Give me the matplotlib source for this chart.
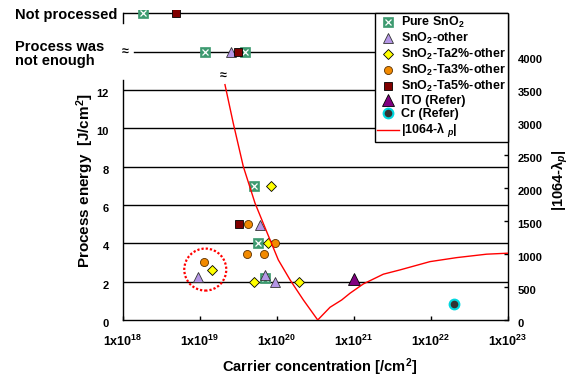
import matplotlib
matplotlib.use("Agg")
import matplotlib.pyplot as plt
from matplotlib.legend_handler import HandlerTuple
from matplotlib.patches import Circle
from matplotlib.ticker import FixedLocator, FixedFormatter, NullLocator
from matplotlib.transforms import ScaledTranslation

plt.rcParams["font.family"] = ["Liberation Sans", "DejaVu Sans"]
plt.rcParams["font.weight"] = "bold"
plt.rcParams["mathtext.fontset"] = "custom"
plt.rcParams["mathtext.rm"] = "Liberation Sans:bold"
plt.rcParams["mathtext.it"] = "Liberation Sans:italic:bold"
plt.rcParams["mathtext.bf"] = "Liberation Sans:bold"
plt.rcParams["mathtext.default"] = "rm"

# --- данные ---
# строка "Not processed" = 16, строка "Process was not enough" = 14
ROW_NOT_PROCESSED = 16
ROW_NOT_ENOUGH = 14

pure_x = [5.1e19, 5.6e19, 7.0e19, 1.84e18, 1.16e19, 3.8e19]
pure_y = [7.0, 4.0, 2.2, ROW_NOT_PROCESSED, ROW_NOT_ENOUGH, ROW_NOT_ENOUGH]

other_x = [9.4e18, 6.1e19, 7.0e19, 9.5e19, 2.5e19]
other_y = [2.25, 4.95, 2.35, 1.97, ROW_NOT_ENOUGH]

ta2_x = [8.3e19, 7.7e19, 1.42e19, 5.1e19, 1.95e20]
ta2_y = [7.0, 4.0, 2.6, 2.0, 2.0]

ta3_x = [4.25e19, 9.4e19, 4.1e19, 6.8e19, 1.13e19]
ta3_y = [5.0, 4.0, 3.45, 3.45, 3.05]

ta5_x = [3.2e19, 4.9e18, 3.1e19]
ta5_y = [5.0, ROW_NOT_PROCESSED, ROW_NOT_ENOUGH]

ito_x = [1.0e21]
ito_y = [2.15]

cr_x = [2.0e22]
cr_y = [0.85]

# |1064 - lambda_p| (правая ось)
lam_x = [2.11e19, 2.70e19, 3.65e19, 5.18e19, 7.48e19, 1.04e20, 1.48e20, 2.20e20,
         3.38e20, 4.88e20, 6.92e20, 8.87e20, 1.32e21, 2.40e21, 3.95e21, 9.70e21,
         2.16e22, 5.28e22, 1.0e23]
lam_y = [3572, 2990, 2330, 1774, 1318, 912, 608, 304,
         0, 193, 304, 406, 547, 695, 760, 886,
         947, 999, 1014]

circle_x, circle_y = 1.17e19, 2.63

xticks = [1e18, 1e19, 1e20, 1e21, 1e22, 1e23]
xtick_labels = ["1x10$^{18}$", "1x10$^{19}$", "1x10$^{20}$",
                "1x10$^{21}$", "1x10$^{22}$", "1x10$^{23}$"]
yticks = [0, 2, 4, 6, 8, 10, 12]
rticks = [0, 500, 1000, 1500, 2000, 2500, 3000, 3500, 4000]

W, H = 576, 377
YTOP = 16.17
RTOP = 4705


def px(x, y):
    return x / W, 1 - y / H


def main() -> None:
    fig = plt.figure(figsize=(W / 100, H / 100), dpi=100)
    ax = fig.add_axes([123 / W, 57 / H, 385 / W, 310 / H])
    ax.set_xscale("log")
    ax.set_xlim(1e18, 1e23)
    ax.set_ylim(0, YTOP)

    ax.xaxis.set_major_locator(FixedLocator(xticks))
    ax.xaxis.set_major_formatter(FixedFormatter(xtick_labels))
    ax.xaxis.set_minor_locator(NullLocator())
    ax.set_yticks(yticks)
    ax.tick_params(axis="x", direction="in", length=3, width=1, pad=10, labelsize=9)
    ax.tick_params(axis="y", length=0, pad=10, labelsize=8)

    for val in yticks[1:]:
        ax.axhline(val, color="black", lw=1.0, zorder=1)
    ax.axhline(ROW_NOT_PROCESSED, color="black", lw=1.0, zorder=1)
    ax.axhline(ROW_NOT_ENOUGH, xmin=11 / 385, color="black", lw=1.0, zorder=1)
    ax.axvline(1e18, ymin=15.5 / YTOP, ymax=ROW_NOT_PROCESSED / YTOP,
               color="black", lw=1.0, clip_on=False)

    for side in ("top", "right"):
        ax.spines[side].set_visible(False)
    ax.spines["left"].set_bounds(0, 12.5)
    for sp in ax.spines.values():
        sp.set_linewidth(1.0)

    green = "#3d9a70"
    h_pure, = ax.plot(pure_x, pure_y, "s", ms=6.5, mfc=green, mec=green, mew=0.5, zorder=3)
    h_purex, = ax.plot(pure_x, pure_y, "x", ms=4.5, mec="white", mew=0.9, zorder=3)
    h_other, = ax.plot(other_x, other_y, "^", ms=6.5, mfc="#b496e6", mec="#333333", mew=0.6, zorder=3)
    h_ta2, = ax.plot(ta2_x, ta2_y, "D", ms=5.2, mfc="#ffff00", mec="black", mew=0.6, zorder=3)
    h_ta3, = ax.plot(ta3_x, ta3_y, "o", ms=5.8, mfc="#f28a00", mec="#5a3000", mew=0.6, zorder=3)
    h_ta5, = ax.plot(ta5_x, ta5_y, "s", ms=5.5, mfc="#800000", mec="black", mew=0.6, zorder=3)
    h_ito, = ax.plot(ito_x, ito_y, "^", ms=8.5, mfc="#800080", mec="black", mew=0.6, zorder=3)
    h_cr, = ax.plot(cr_x, cr_y, "o", ms=7.0, mfc="#333333", mec="#00d8e0", mew=1.5, zorder=3)

    ring = Circle((0, 0), 0.21, fill=False, ec="red", lw=1.6, ls=(0, (1, 0.9)),
                  transform=fig.dpi_scale_trans + ScaledTranslation(circle_x, circle_y, ax.transData),
                  zorder=4)
    ax.add_patch(ring)

    ax2 = ax.twinx()
    ax2.set_ylim(0, RTOP)
    ax2.set_yticks(rticks)
    ax2.tick_params(axis="y", direction="in", length=3, width=1, pad=7, labelsize=8)
    for side in ("top", "left", "bottom"):
        ax2.spines[side].set_visible(False)
    ax2.spines["right"].set_bounds(0, 4650)
    ax2.spines["right"].set_linewidth(1.0)
    h_lam, = ax2.plot(lam_x, lam_y, color="red", lw=1.0, zorder=5)

    shift = ScaledTranslation(0, -3 / 100, fig.dpi_scale_trans)
    for lbl in ax.get_yticklabels() + ax2.get_yticklabels():
        lbl.set_transform(lbl.get_transform() + shift)

    handles = [(h_pure, h_purex), h_other, h_ta2, h_ta3, h_ta5, h_ito, h_cr, h_lam]
    labels = ["Pure SnO$_2$", "SnO$_2$-other", "SnO$_2$-Ta2%-other",
              "SnO$_2$-Ta3%-other", "SnO$_2$-Ta5%-other", "ITO (Refer)",
              "Cr (Refer)", "|1064-λ $_{\\mathit{p}}$|"]
    leg = ax2.legend(handles, labels, handler_map={tuple: HandlerTuple(ndivide=1)},
                     loc="upper right", bbox_to_anchor=(1.0, 307 / 310),
                     borderaxespad=0, fontsize=9, fancybox=False, framealpha=1,
                     edgecolor="black", handlelength=1.75, handletextpad=0.2,
                     borderpad=0.15, labelspacing=0.08, numpoints=1)
    leg.get_frame().set_linewidth(1.0)

    fig.text(*px(117, 15), "Not processed", ha="right", va="center", fontsize=10.5)
    fig.text(*px(15, 54), "Process was\nnot enough", ha="left", va="center",
             fontsize=10.5, linespacing=0.95)
    fig.text(*px(125, 52), "≈", ha="center", va="center", fontsize=9)
    fig.text(*px(223, 76), "≈", ha="center", va="center", fontsize=9)

    fig.text(*px(85, 181), "Process energy  [J/cm$^2$]", rotation=90,
             ha="center", va="center", fontsize=11)
    fig.text(*px(560, 180), "|1064-λ$_{\\mathit{p}}$|", rotation=90,
             ha="center", va="center", fontsize=10.5)
    fig.text(*px(320, 367), "Carrier concentration [/cm$^2$]",
             ha="center", va="center", fontsize=10.5)

    fig.savefig("out.png", dpi=100)
    plt.close(fig)


if __name__ == "__main__":
    main()
